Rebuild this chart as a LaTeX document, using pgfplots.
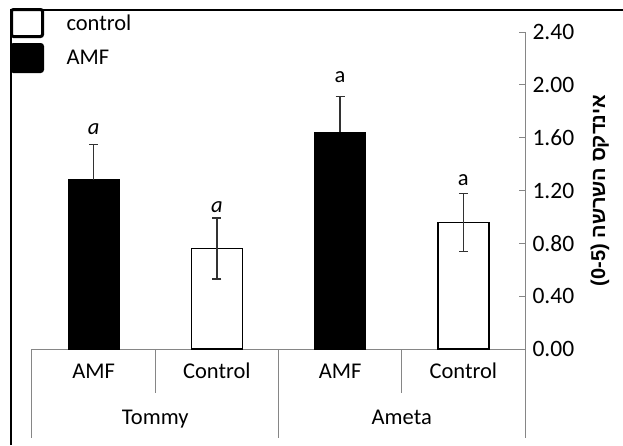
\documentclass[border=0pt]{standalone}
\usepackage{pgfplots}
\pgfplotsset{compat=1.18}
\usepackage{fontspec}
\setmainfont{Carlito}
\newfontfamily\hebfont[Script=Hebrew]{Liberation Sans}
\TeXXeTstate=1
\definecolor{axgray}{RGB}{134,134,134}
\definecolor{errgray}{RGB}{50,50,50}
\begin{document}
\begin{tikzpicture}
\begin{axis}[
  at={(0,0)}, anchor=south west,
  scale only axis, width=493pt, height=317pt,
  xmin=0.5, xmax=4.5, ymin=0, ymax=2.4,
  axis x line=bottom, axis y line=right,
  axis line style={-, draw=axgray, line width=1pt},
  ytick={0,0.4,0.8,1.2,1.6,2.0,2.4},
  yticklabel style={anchor=west, xshift=4pt, font=\fontsize{23.5}{27}\selectfont, /pgf/number format/fixed, /pgf/number format/fixed zerofill, /pgf/number format/precision=2, /pgf/number format/assume math mode=true},
  ytick style={draw=axgray, line width=1pt},
  tick align=inside,
  major tick length=6pt,
  xtick={1,2,3,4}, xticklabels={AMF,Control,AMF,Control},
  xtick style={draw=none},
  xticklabel style={anchor=base, yshift=-29pt, font=\fontsize{22.5}{27}\selectfont},
  clip=false,
  legend style={at={(axis description cs:-0.0446,1.0757)}, anchor=north west,
    draw=none, fill=none, inner sep=0pt, outer sep=0pt, row sep=5pt, column sep=22.5pt,
    font=\fontsize{22.5}{27}\selectfont, nodes={inner sep=0pt}},
  legend cell align=left,
]
\addplot[ybar, bar width=51pt, bar shift=0pt, fill=white, draw=black, line width=1.5pt,
  legend image code/.code={\draw[fill=white, draw=black, line width=3pt, rounded corners=2pt] (0pt,-13.5pt) rectangle (31pt,13.5pt);},
  error bars/.cd, y dir=both, y explicit,
  error bar style={line width=1.5pt, draw=errgray},
  error mark options={rotate=90, mark size=4.5pt, line width=1.5pt, draw=errgray}]
  coordinates {(2,0.76) +- (0,0.23) (4,0.957) +- (0,0.22)};
\addlegendentry{control}
\addplot[ybar, bar width=51pt, bar shift=0pt, fill=black, draw=black, line width=1pt,
  legend image code/.code={\draw[fill=black, draw=black, line width=3pt, rounded corners=2pt] (0pt,-13.5pt) rectangle (31pt,13.5pt);},
  error bars/.cd, y dir=plus, y explicit,
  error bar style={line width=1.5pt, draw=errgray},
  error mark options={rotate=90, mark size=4.5pt, line width=1.5pt, draw=errgray}]
  coordinates {(1,1.283) +- (0,0.266) (3,1.64) +- (0,0.273)};
\addlegendentry{AMF}
\draw[axgray, line width=1pt] (axis cs:0.5,0) -- ([yshift=-89pt]axis cs:0.5,0);
\draw[axgray, line width=1pt] (axis cs:2.5,0) -- ([yshift=-89pt]axis cs:2.5,0);
\draw[axgray, line width=1pt] (axis cs:4.5,0) -- ([yshift=-89pt]axis cs:4.5,0);
\draw[axgray, line width=1pt] (axis cs:1.5,0) -- ([yshift=-44pt]axis cs:1.5,0);
\draw[axgray, line width=1pt] (axis cs:3.5,0) -- ([yshift=-44pt]axis cs:3.5,0);
\node[anchor=base, font=\fontsize{22.5}{27}\selectfont, yshift=-75pt] at (axis cs:1.5,0) {Tommy};
\node[anchor=base, font=\fontsize{22.5}{27}\selectfont, yshift=-75pt] at (axis cs:3.5,0) {Ameta};
\node[anchor=base, font=\fontsize{22.5}{27}\selectfont] at (axis cs:1,1.625) {\textit{a}};
\node[anchor=base, font=\fontsize{22.5}{27}\selectfont] at (axis cs:2,1.033) {\textit{a}};
\node[anchor=base, font=\fontsize{22.5}{27}\selectfont] at (axis cs:3,2.02) {a};
\node[anchor=base, font=\fontsize{22.5}{27}\selectfont] at (axis cs:4,1.238) {a};
\node[rotate=90, font=\fontsize{20}{24}\selectfont] at ([xshift=75pt]rel axis cs:1,0.5) {\hebfont\bfseries\beginR אינדקס השרשה \beginL(0-5)\endL\endR};
\end{axis}
\draw[line width=1.5pt] (-21pt,-96pt) -- (-21pt,339pt) -- (591pt,339pt);
\pgfresetboundingbox
\path (-32pt,-96pt) rectangle (591pt,349pt);
\end{tikzpicture}
\end{document}
